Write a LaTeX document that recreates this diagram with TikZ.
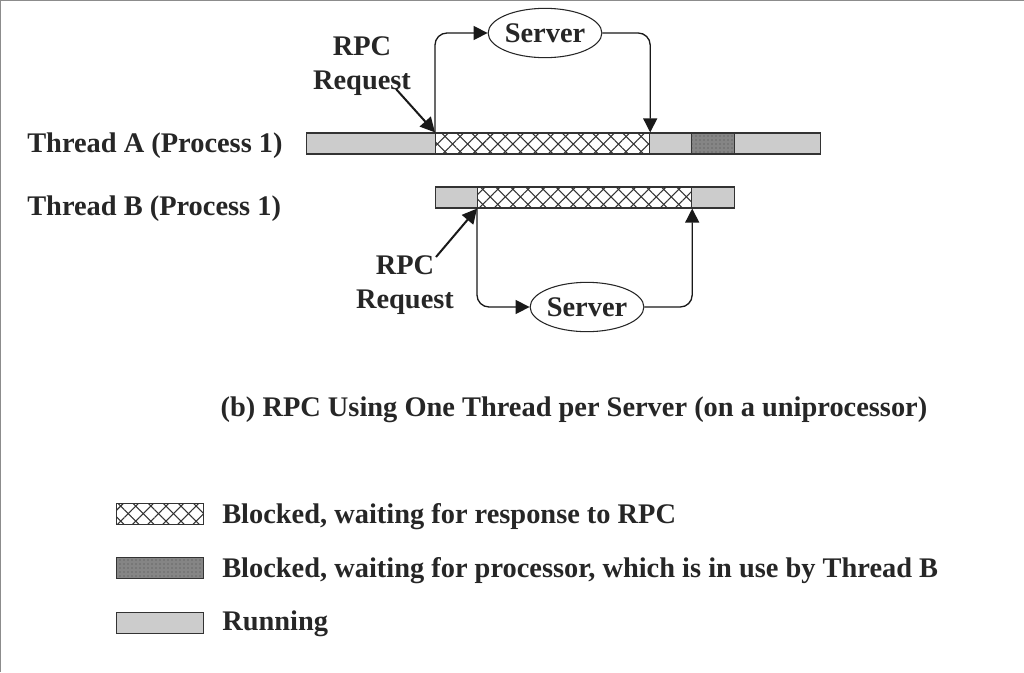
\documentclass[tikz,border=0pt]{standalone}
\usepackage{fontspec}
\setmainfont{Liberation Serif}
\usetikzlibrary{positioning,shapes.geometric,arrows.meta,patterns.meta}

\newcommand{\figfont}{\fontsize{21.3}{25.5}\selectfont\bfseries}

\tikzset{
  seg/.style={draw=black!80, line width=0.9pt, inner sep=0pt, minimum height=15.75pt, minimum width=#1*0.75pt, anchor=west},
  running/.style={seg=#1, fill=black!20},
  waitrpc/.style={seg=#1, fill=white,
    postaction={pattern={Lines[angle=45,distance=8pt,line width=0.8pt]}, pattern color=black!80},
    postaction={pattern={Lines[angle=-45,distance=8pt,line width=0.8pt]}, pattern color=black!80}},
  waitcpu/.style={seg=#1, fill=black!48,
    postaction={pattern={Dots[radius=0.5pt,distance=3pt]}, pattern color=black!70}},
  server/.style={ellipse, draw=black!85, line width=0.8pt, inner sep=0pt, minimum width=76pt, minimum height=37pt},
  flow/.style={draw=black!90, line width=1pt, rounded corners=9pt, -{Triangle[length=10.5pt,width=10.5pt]}},
  pointer/.style={draw=black!90, line width=1.5pt, -{Triangle[length=11pt,width=11pt]}},
  txt/.style={text=black!85, font=\figfont, inner sep=0pt}
}

\begin{document}
\begin{tikzpicture}[x=0.75pt,y=0.75pt,yscale=-1,xscale=1]
        \useasboundingbox (0,0) rectangle (1024,672);
        % frame
        \draw[black!45, line width=1.5pt] (0,672) -- (0,0) -- (1024,0);

        % Thread A
        \node[txt, anchor=base west] (labA) at (27,152) {Thread A (Process 1)};
        \node[running=129] (a1) at (306,143.5) {};
        \node[waitrpc=214] (a2) at (435,143.5) {};
        \node[running=42] (a3) at (649,143.5) {};
        \node[waitcpu=43] (a4) at (691,143.5) {};
        \node[running=86] (a5) at (734,143.5) {};

        % Thread B
        \node[txt, anchor=base west] (labB) at (27,215) {Thread B (Process 1)};
        \node[running=42] (b1) at (435,197.5) {};
        \node[waitrpc=214] (b2) at (477,197.5) {};
        \node[running=43] (b3) at (691,197.5) {};

        % servers
        \node[server, txt] (srvA) at (545,33) {Server};
        \node[server, txt] (srvB) at (587,307) {Server};

        \draw[flow] (a2.north west) |- (srvA);
        \draw[flow] (srvA) -| (a2.north east);
        \draw[flow] (b2.south west) |- (srvB);
        \draw[flow] (srvB) -| (b2.south east);

        % RPC requests
        \node[txt, align=center] (reqA) at (362,66) {RPC\\Request};
        \coordinate (reqAtail) at (396,89);
        \draw[pointer] (reqAtail) -- (a2.north west);
        \node[txt, align=center] (reqB) at (405,285) {RPC\\Request};
        \coordinate (reqBtail) at (436,257);
        \draw[pointer] (reqBtail) -- (b2.south west);

        % caption
        \node[txt, anchor=base] (cap) at (574,416) {(b) RPC Using One Thread per Server (on a uniprocessor)};

        % legend
        \node[waitrpc=87] (key1) at (116,514) {};
        \node[waitcpu=87] (key2) at (116,568) {};
        \node[running=87] (key3) at (116,623) {};
        \node[txt, anchor=base west] (txt1) at (222,523) {Blocked, waiting for response to RPC};
        \node[txt, anchor=base west] (txt2) at (222,577) {Blocked, waiting for processor, which is in use by Thread B};
        \node[txt, anchor=base west] (txt3) at (222,630) {Running};
\end{tikzpicture}
\end{document}
